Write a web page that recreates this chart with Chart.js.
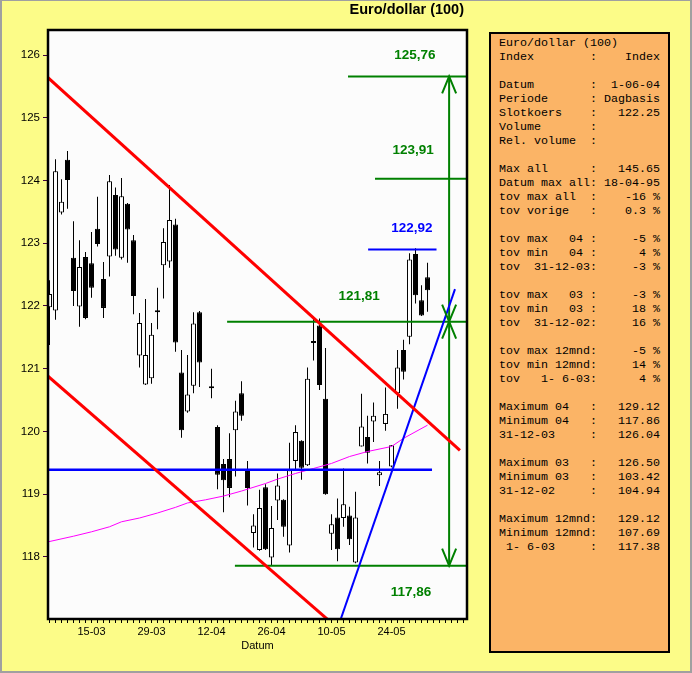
<!DOCTYPE html>
<html>
<head>
<meta charset="utf-8">
<title>Euro/dollar (100)</title>
<script src="https://cdn.jsdelivr.net/npm/chart.js@4.4.1/dist/chart.umd.min.js"></script>
<style>
  html, body { margin: 0; padding: 0; background: #fcfc88; overflow: hidden; }
  #wrap { position: relative; width: 692px; height: 673px; }
  #frame { position: absolute; left: 0; top: 0; width: 692px; height: 673px; box-sizing: border-box;
           border: 2px solid #a0a0a0; border-top-width: 1px; pointer-events: none; }
  #panel { position: absolute; left: 489px; top: 32px; width: 181px; height: 621px; box-sizing: border-box;
           border: 2px solid #000; background: #fbb466; }
  #panel pre { margin: 0; padding: 2px 0 0 8px; font-family: "Liberation Mono", "Courier New", monospace;
               font-size: 11.67px; line-height: 14px; color: #000; }
</style>
</head>
<body>
<div id="wrap">
  <canvas id="koersChart" width="692" height="673"></canvas>
  <div id="panel"><pre id="panelText"></pre></div>
  <div id="frame"></div>
</div>
<script>
// Koersdata (index = handelsdag, 0 = 4 maart 2004, 26 = Goede Vrijdag zonder koers)
const days   = [0,1,2,3,4,5,6,7,8,9,10,11,12,13,14,15,16,17,18,19,20,21,22,23,24,25,26,27,28,29,30,31,
                32,33,34,35,36,37,38,39,40,41,42,43,44,45,46,47,48,49,50,51,52,53,54,55,56,57,58,59,60,61,62,63];
const opens  = [121.98,121.93,123.49,124.33,122.77,121.99,122.78,122.68,123.23,122.43,122.79,123.77,122.77,123.63,
                123.05,121.21,120.75,120.85,121.90,122.65,122.71,123.30,120.94,120.32,120.73,121.90,null,120.69,
                120.07,119.48,119.56,120.02,120.61,119.39,118.38,118.11,119.11,117.99,118.90,118.91,118.18,119.53,
                119.85,119.46,121.41,121.69,120.52,118.37,118.63,118.62,118.66,117.91,119.76,119.91,120.16,119.30,
                120.12,119.44,120.61,121.30,121.51,122.83,122.09,122.46];
const highs  = [122.41,124.34,124.02,124.47,123.35,123.05,122.86,123.18,123.74,122.70,124.09,123.89,124.04,123.64,
                123.13,121.89,122.11,121.73,122.29,123.24,123.93,123.39,121.30,121.22,121.90,121.92,null,121.00,
                120.10,119.56,119.97,120.49,120.80,119.53,118.68,119.07,119.16,118.81,119.33,118.92,119.82,120.10,
                119.86,121.02,121.80,121.80,121.33,118.68,118.93,119.41,118.80,119.04,120.60,120.25,120.46,119.53,
                120.70,119.78,121.30,121.46,122.84,122.92,122.33,122.69];
const lows   = [121.38,121.78,123.46,123.55,122.00,121.67,121.79,122.13,122.95,121.81,122.47,122.80,122.74,122.69,
                121.87,121.02,120.74,120.76,121.63,122.12,122.61,121.27,119.90,120.30,120.61,120.71,null,120.53,
                119.08,118.71,118.95,119.28,120.17,118.82,118.15,118.10,118.11,117.86,118.59,118.32,118.07,119.38,
                119.23,119.45,121.13,120.66,118.99,118.11,117.93,118.48,118.19,117.90,119.76,119.49,119.83,119.13,
                120.01,119.43,120.36,120.83,121.39,122.04,121.84,121.91];
const closes = [122.19,124.15,123.66,124.01,122.24,122.62,121.81,122.29,122.99,121.97,123.99,122.90,123.75,123.22,
                122.16,121.73,121.22,121.54,121.90,123.02,123.37,121.42,120.02,120.59,121.72,121.10,null,120.69,
                119.31,119.22,119.10,120.32,120.25,119.10,118.50,118.78,118.12,118.46,119.14,118.48,119.38,119.99,
                119.42,120.84,121.41,120.74,119.00,118.52,118.12,118.84,118.28,118.63,120.08,119.66,120.25,119.35,
                120.28,119.78,121.02,120.95,122.74,122.17,121.85,122.25];

// Voortschrijdend gemiddelde (magenta)
const maDays   = [-0.25, 4, 7, 10, 12, 15, 18, 21, 23, 26, 29, 32, 36, 38, 41, 44, 47, 50, 53, 57, 59, 63];
const maValues = [118.24,118.33,118.40,118.48,118.56,118.62,118.70,118.79,118.86,118.91,118.97,119.05,
                  119.17,119.24,119.33,119.41,119.49,119.60,119.68,119.76,119.89,120.10];

// Trendlijnen
const upperTrendDays = [-0.25, 68.4],  upperTrendValues = [125.64, 119.70];
const lowerTrendDays = [-0.25, 46.75], lowerTrendValues = [120.88, 116.97];
const supportDays    = [-0.25, 63.75], supportValues    = [119.39, 119.39];
const riseDays       = [48.4, 67.58],  riseValues       = [116.97, 122.27];

// Koersdoelen (groen) en top (blauw)
const target1Days = [49.75, 69.6], target1Values = [125.66, 125.66];
const target2Days = [54.25, 69.6], target2Values = [124.03, 124.03];
const target3Days = [29.6, 69.6],  target3Values = [121.75, 121.75];
const target4Days = [30.9, 69.6],  target4Values = [117.86, 117.86];
const topDays     = [53.1, 64.5],  topValues     = [122.90, 122.90];
const spanDays    = [66.6, 66.6],  spanValues    = [125.66, 117.86];

const arrowDays   = [66.6, 66.6, 66.6, 66.6];
const arrowValues = [125.66, 121.75, 121.75, 117.86];
const arrowDirs   = ['up', 'down', 'up', 'down'];

const noteTexts  = ['125,76', '123,91', '122,92', '121,81', '117,86'];
const noteDays   = [60.9, 60.6, 60.4, 51.6, 60.25];
const noteValues = [126.0, 124.49, 123.24, 122.16, 117.44];
const noteColors = ['#008000', '#008000', '#0000ff', '#008000', '#008000'];

// As-indeling
const yTicks = [118, 119, 120, 121, 122, 123, 124, 125, 126];
const xTickDays = [];
for (let i = 0; i <= 69; i++) xTickDays.push(i);
const xLabelDays  = [7, 17, 27, 37, 47, 57];
const xLabelTexts = ['15-03', '29-03', '12-04', '26-04', '10-05', '24-05'];

// Info-paneel
const panelLabels = ['Euro/dollar (100)', 'Index', '', 'Datum', 'Periode', 'Slotkoers', 'Volume', 'Rel. volume', '',
  'Max all', 'Datum max all', 'tov max all', 'tov vorige', '',
  'tov max   04', 'tov min   04', 'tov  31-12-03', '',
  'tov max   03', 'tov min   03', 'tov  31-12-02', '',
  'tov max 12mnd', 'tov min 12mnd', 'tov   1- 6-03', '',
  'Maximum 04', 'Minimum 04', '31-12-03', '',
  'Maximum 03', 'Minimum 03', '31-12-02', '',
  'Maximum 12mnd', 'Minimum 12mnd', ' 1- 6-03'];
const panelValues = [null, 'Index', null, '1-06-04', 'Dagbasis', '122.25', '', '', null,
  '145.65', '18-04-95', '-16 %', '0.3 %', null,
  '-5 %', '4 %', '-3 %', null,
  '-3 %', '18 %', '16 %', null,
  '-5 %', '14 %', '4 %', null,
  '129.12', '117.86', '126.04', null,
  '126.50', '103.42', '104.94', null,
  '129.12', '107.69', '117.38'];

document.getElementById('panelText').textContent = panelLabels.map((lab, i) => {
    if (panelValues[i] === null) return lab;
    return lab.padEnd(13) + ':' + panelValues[i].padStart(9);
}).join('\n');

// Candles opbouwen
const wickData = [];
const bodyData = [];
const bodyColors = [];
days.forEach((d, i) => {
    if (opens[i] === null) return;
    wickData.push({x: d, y: [lows[i], highs[i]]});
    bodyData.push({x: d, y: [opens[i], closes[i]]});
    bodyColors.push(closes[i] >= opens[i] ? '#ffffff' : '#000000');
});

function lineSet(xs, ys, color, width) {
    return {
        type: 'line',
        data: xs.map((x, i) => ({x: x, y: ys[i]})),
        borderColor: color,
        borderWidth: width,
        pointRadius: 0,
        fill: false,
        tension: 0,
        clip: 0,
        order: 1
    };
}

const decor = {
    id: 'decor',
    beforeDraw(chart) {
        const {ctx, chartArea: a} = chart;
        ctx.save();
        ctx.fillStyle = '#fcfcfc';
        ctx.fillRect(a.left, a.top, a.right - a.left, a.bottom - a.top);
        ctx.restore();
    },
    afterDatasetsDraw(chart) {
        const {ctx, chartArea: a} = chart;
        const xs = chart.scales.x, ys = chart.scales.y;
        ctx.save();
        // pijlpunten
        ctx.strokeStyle = '#008000';
        ctx.lineWidth = 2;
        arrowDays.forEach((d, i) => {
            const px = xs.getPixelForValue(d);
            const py = ys.getPixelForValue(arrowValues[i]);
            const dy = arrowDirs[i] === 'up' ? 17 : -17;
            ctx.beginPath();
            ctx.moveTo(px - 7, py + dy);
            ctx.lineTo(px, py);
            ctx.lineTo(px + 7, py + dy);
            ctx.stroke();
        });
        // waarden bij de lijnen
        ctx.font = 'bold 13.5px Arial, "Liberation Sans", sans-serif';
        ctx.textAlign = 'center';
        ctx.textBaseline = 'middle';
        noteTexts.forEach((t, i) => {
            ctx.fillStyle = noteColors[i];
            ctx.fillText(t, xs.getPixelForValue(noteDays[i]), ys.getPixelForValue(noteValues[i]));
        });
        // kader
        ctx.strokeStyle = '#000';
        ctx.lineWidth = 2.5;
        ctx.strokeRect(a.left, a.top, a.right - a.left, a.bottom - a.top);
        ctx.restore();
    },
    afterDraw(chart) {
        const ctx = chart.ctx;
        ctx.save();
        ctx.font = 'bold 14.5px Arial, "Liberation Sans", sans-serif';
        ctx.fillStyle = '#000';
        ctx.textAlign = 'right';
        ctx.textBaseline = 'middle';
        ctx.fillText('Euro/dollar (100)', 464, 10);
        ctx.restore();
    }
};

Chart.defaults.font.family = 'Arial, "Liberation Sans", sans-serif';
Chart.defaults.color = '#000';

const ctx = document.getElementById('koersChart').getContext('2d');
const koersChart = new Chart(ctx, {
    type: 'bar',
    data: {
        datasets: [
            lineSet(upperTrendDays, upperTrendValues, '#ff0000', 3),
            lineSet(lowerTrendDays, lowerTrendValues, '#ff0000', 3),
            lineSet(supportDays, supportValues, '#0000ff', 2.5),
            lineSet(riseDays, riseValues, '#0000ff', 2),
            lineSet(maDays, maValues, '#ff00ff', 1),
            lineSet(target1Days, target1Values, '#008000', 2),
            lineSet(target2Days, target2Values, '#008000', 2),
            lineSet(target3Days, target3Values, '#008000', 2),
            lineSet(target4Days, target4Values, '#008000', 2),
            lineSet(topDays, topValues, '#0000ff', 2),
            lineSet(spanDays, spanValues, '#008000', 2),
            {
                data: wickData,
                backgroundColor: '#000',
                borderWidth: 0,
                barThickness: 1,
                stack: 'candle',
                inflateAmount: 0,
                clip: 0,
                order: 10
            },
            {
                data: bodyData,
                backgroundColor: bodyColors,
                borderColor: '#000',
                borderWidth: 1,
                borderSkipped: false,
                barThickness: 5,
                minBarLength: 2,
                stack: 'candle',
                inflateAmount: 0,
                clip: 0,
                order: 9
            }
        ]
    },
    options: {
        responsive: false,
        animation: false,
        events: [],
        layout: {
            padding: { left: 0, right: 225, top: 30, bottom: 0 }
        },
        plugins: {
            legend: { display: false },
            tooltip: { enabled: false },
            title: { display: false }
        },
        scales: {
            x: {
                type: 'linear',
                min: -0.25,
                max: 69.58,
                offset: false,
                afterBuildTicks: (axis) => { axis.ticks = xTickDays.map(v => ({value: v})); },
                afterFit: (axis) => { axis.height = 54; },
                ticks: {
                    autoSkip: false,
                    maxRotation: 0,
                    padding: 2,
                    font: { size: 11 },
                    callback: function(value) {
                        const i = xLabelDays.indexOf(value);
                        return i >= 0 ? xLabelTexts[i] : '';
                    }
                },
                grid: {
                    offset: false,
                    drawOnChartArea: false,
                    tickLength: 4,
                    tickColor: '#000'
                },
                border: { display: false },
                title: {
                    display: true,
                    text: 'Datum',
                    font: { size: 11 },
                    padding: { top: 0, bottom: 20 }
                }
            },
            y: {
                min: 117.01,
                max: 126.40,
                stacked: false,
                afterBuildTicks: (axis) => { axis.ticks = yTicks.map(v => ({value: v})); },
                afterFit: (axis) => { axis.width = 48; },
                ticks: {
                    padding: 3,
                    font: { size: 11.5 }
                },
                grid: {
                    drawOnChartArea: false,
                    tickLength: 5,
                    tickColor: '#400040'
                },
                border: { display: false }
            }
        }
    },
    plugins: [decor]
});
</script>
</body>
</html>
